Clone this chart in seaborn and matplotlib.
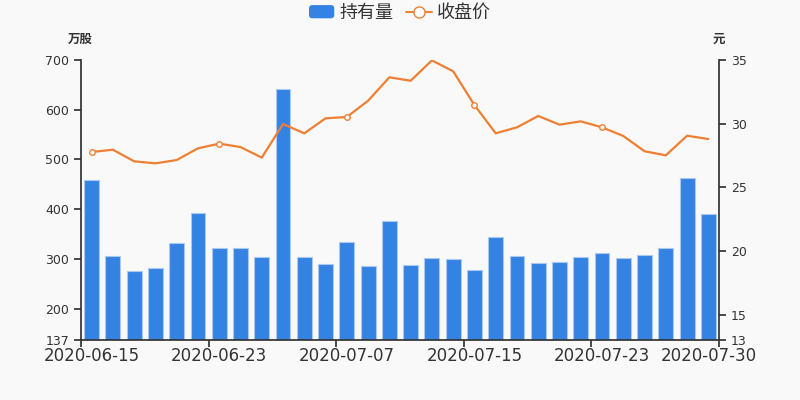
import matplotlib
matplotlib.use("Agg")  # headless rendering
import matplotlib.pyplot as plt
from matplotlib.legend_handler import HandlerPatch
from matplotlib.lines import Line2D
from matplotlib.patches import FancyBboxPatch, Patch
import pandas as pd
import seaborn as sns

# data
dates = [
    "2020-06-15", "2020-06-16", "2020-06-17", "2020-06-18", "2020-06-19",
    "2020-06-22", "2020-06-23", "2020-06-24", "2020-06-29", "2020-06-30",
    "2020-07-01", "2020-07-02", "2020-07-07", "2020-07-08", "2020-07-09",
    "2020-07-10", "2020-07-13", "2020-07-14", "2020-07-15", "2020-07-16",
    "2020-07-17", "2020-07-20", "2020-07-21", "2020-07-22", "2020-07-23",
    "2020-07-24", "2020-07-27", "2020-07-28", "2020-07-29", "2020-07-30",
]
holdings = [  # 万股
    459, 306, 276, 281, 333, 392, 322, 321, 303, 641,
    304, 289, 334, 286, 376, 287, 301, 299, 278, 345,
    305, 292, 294, 304, 312, 301, 307, 321, 462, 390,
]
close = [  # 元
    27.77, 27.95, 27.04, 26.88, 27.14, 28.06, 28.43, 28.16, 27.33, 29.97,
    29.24, 30.42, 30.52, 31.80, 33.64, 33.37, 34.97, 34.11, 31.46, 29.24,
    29.71, 30.60, 29.92, 30.18, 29.71, 29.03, 27.83, 27.51, 29.05, 28.79,
]
label_idx = [0, 6, 12, 18, 24, 29]
marker_idx = [0, 6, 12, 18, 24]
left_ticks = [137, 200, 300, 400, 500, 600, 700]
right_ticks = [13, 15, 20, 25, 30, 35]

BG = "#f9f9f9"
BLUE = "#3483e2"
EDGE = "#a9c9f2"
ORANGE = "#ee7f33"
TXT = "#333333"


class RoundedPatch(HandlerPatch):
    """Legend swatch with rounded corners, like the reference."""

    def create_artists(self, legend, orig_handle, xdescent, ydescent,
                       width, height, fontsize, trans):
        p = FancyBboxPatch((-xdescent, -ydescent), width, height,
                           boxstyle="round,pad=0,rounding_size=2.5",
                           facecolor=orig_handle.get_facecolor(),
                           edgecolor="none", transform=trans)
        return [p]


df = pd.DataFrame({"date": dates, "holding": holdings, "close": close})
df["pos"] = range(len(df))

sns.set_theme(style="ticks")
plt.rcParams["font.family"] = ["DejaVu Sans", "Noto Sans CJK SC"]

fig = plt.figure(figsize=(8, 4), dpi=100, facecolor=BG)
ax = fig.add_axes([81 / 800, 60 / 400, 638 / 800, 280 / 400])
ax.set_facecolor(BG)

sns.barplot(data=df, x="date", y="holding", color=BLUE, saturation=1,
            width=0.7, edgecolor=EDGE, linewidth=0.8, ax=ax)

ax2 = ax.twinx()
sns.lineplot(data=df, x="pos", y="close", color=ORANGE, linewidth=1.6, ax=ax2)
ax2.plot(df["pos"], df["close"], linestyle="none", marker="o", markevery=marker_idx,
         mfc="white", mec=ORANGE, mew=1, ms=4)

ax.set_xlim(-0.5, len(df) - 0.5)
ax.set_ylim(left_ticks[0], left_ticks[-1])
ax2.set_ylim(right_ticks[0], right_ticks[-1])
ax.set_yticks(left_ticks)
ax2.set_yticks(right_ticks)

# ticks on category boundaries, labels on the bars themselves
ax.set_xticks([i - 0.5 for i in range(0, len(df) + 1, 6)])
ax.set_xticklabels([])
ax.set_xticks(label_idx, minor=True)
ax.set_xticklabels([dates[i] for i in label_idx], minor=True)
ax.tick_params(axis="x", which="major", length=5, color=TXT)
ax.tick_params(axis="x", which="minor", length=0, labelsize=12, labelcolor=TXT, pad=5)
ax.tick_params(axis="y", length=5, color=TXT, labelsize=9, labelcolor=TXT)
ax2.tick_params(axis="y", length=5, color=TXT, labelsize=9, labelcolor=TXT)

for a in (ax, ax2):
    a.set_xlabel("")
    a.set_ylabel("")
    a.spines["top"].set_visible(False)
ax.spines["right"].set_visible(False)
ax2.spines["left"].set_visible(False)
ax2.spines["bottom"].set_visible(False)
for s in ("left", "bottom"):
    ax.spines[s].set_color(TXT)
ax2.spines["right"].set_color(TXT)

fig.text(80 / 800, 1 - 39 / 400, "万股", ha="center", va="center",
         fontsize=9, fontweight="bold", color=TXT)
fig.text(719 / 800, 1 - 39 / 400, "元", ha="center", va="center",
         fontsize=9, fontweight="bold", color=TXT)

bar_handle = Patch(facecolor=BLUE, edgecolor=BLUE)
handles = [
    bar_handle,
    Line2D([], [], color=ORANGE, linewidth=1.4, marker="o", mfc="white", mec=ORANGE, ms=8),
]
fig.legend(handles, ["持有量", "收盘价"], loc="center", bbox_to_anchor=(0.5, 1 - 13 / 400),
           ncol=2, frameon=False, fontsize=13, labelcolor=TXT, handlelength=1.4,
           handleheight=0.75, handletextpad=0.3, columnspacing=0.7,
           handler_map={bar_handle: RoundedPatch()})

fig.savefig("out.png", dpi=100, facecolor=BG)
plt.close(fig)
